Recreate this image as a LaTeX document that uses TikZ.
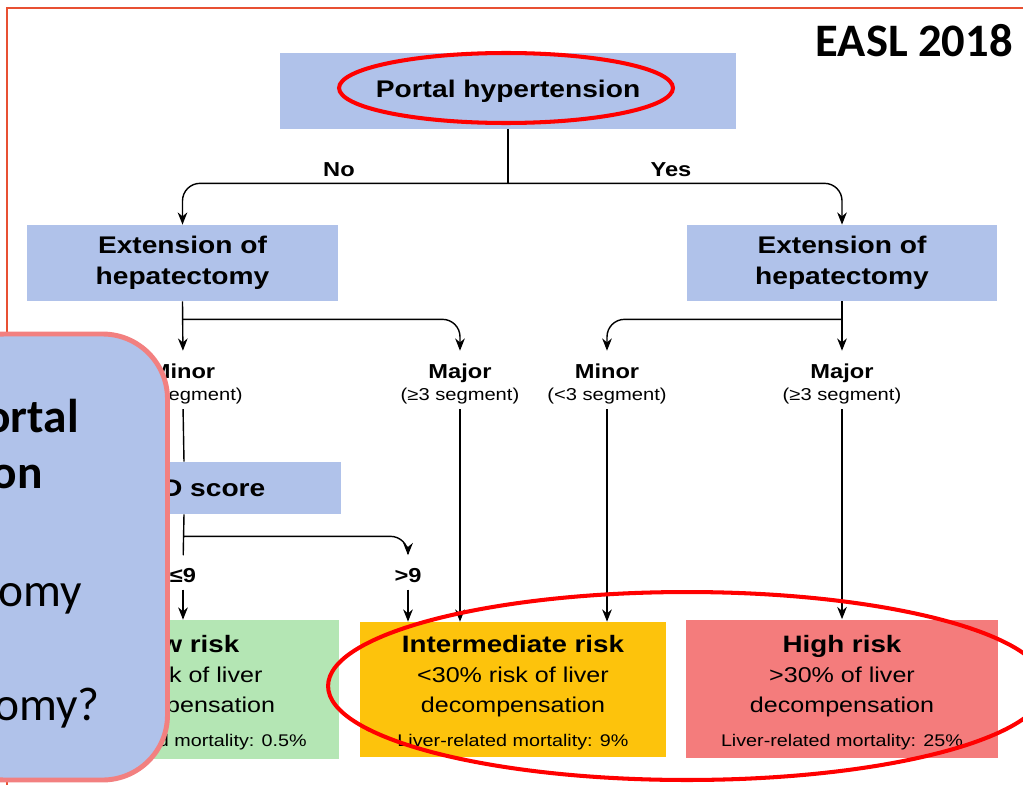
\documentclass[tikz,border=0pt]{standalone}
\usepackage{fontspec}
\setmainfont{Liberation Sans}[FakeStretch=1.17]
\newfontfamily\slidefont{Carlito}
\usetikzlibrary{arrows.meta,positioning}

\definecolor{boxblue}{RGB}{176,194,234}
\definecolor{lowgreen}{RGB}{180,230,180}
\definecolor{midamber}{RGB}{253,195,12}
\definecolor{highred}{RGB}{244,124,124}
\definecolor{framered}{RGB}{232,80,50}
\definecolor{calloutedge}{RGB}{242,128,128}

\tikzset{
  box/.style={fill=boxblue, inner sep=0pt, align=center,
    font=\bfseries\fontsize{13.7}{17.5}\selectfont},
  riskbox/.style={inner sep=0pt, minimum width=6.24cm, minimum height=2.78cm},
  risktitle/.style={anchor=base, inner sep=1pt, font=\bfseries\fontsize{13.5}{15}\selectfont},
  risktext/.style={anchor=base, inner sep=1pt, font=\fontsize{12.2}{14}\selectfont},
  riskmort/.style={anchor=base, inner sep=1pt, font=\fontsize{9.6}{11}\selectfont},
  lbl/.style={anchor=base, inner sep=1pt, font=\bfseries\fontsize{11.5}{13}\selectfont},
  seg/.style={anchor=base, inner sep=1pt, font=\fontsize{9.8}{11}\selectfont},
  lnk/.style={line width=0.8pt},
  arr/.style={lnk, -{Stealth[length=7pt,width=5.5pt]}},
  hl/.style={draw=red, line width=2.3pt},
  slide/.style={inner sep=0pt, font=\slidefont\fontsize{27}{32}\selectfont},
}

\begin{document}
\begin{tikzpicture}[x=0.02cm,y=-0.02cm]
  \useasboundingbox (0,0) rectangle (1023,784);
  \fill[white] (0,0) rectangle (1023,784);

  % outer frame of the slide picture
  \draw[framered, line width=1.1pt] (7,800) |- (1040,8);
  \node[slide, font=\slidefont\bfseries\fontsize{26.5}{30}\selectfont, anchor=base east] (easl) at (1013,57) {EASL 2018};

  % decision boxes
  \node[box, minimum width=9.12cm, minimum height=1.52cm] (portal) at (508,91) {Portal hypertension};
  \node[box, minimum width=6.22cm, minimum height=1.52cm] (extL) at (182.5,263) {Extension of\\hepatectomy};
  \node[box, minimum width=6.2cm, minimum height=1.52cm] (extR) at (842,263) {Extension of\\hepatectomy};
  \node[box, minimum width=6.28cm, minimum height=1.04cm] (meld) at (184,488) {MELD score};

  \node[lbl] (no) at (339,176) {No};
  \node[lbl] (yes) at (671,176) {Yes};

  % branch labels
  \node[lbl] (minL) at (183,378) {Minor};
  \node[seg] (minLs) at (183,400) {(<3 segment)};
  \node[lbl] (majL) at (460,378) {Major};
  \node[seg] (majLs) at (460,400) {(≥3 segment)};
  \node[lbl] (minR) at (607,378) {Minor};
  \node[seg] (minRs) at (607,400) {(<3 segment)};
  \node[lbl] (majR) at (842,378) {Major};
  \node[seg] (majRs) at (842,400) {(≥3 segment)};
  \node[lbl] (le9) at (183,582) {≤9};
  \node[lbl] (gt9) at (408,582) {>9};

  % outcome boxes
  \node[riskbox, fill=lowgreen] (low) at (183,689.5) {};
  \node[riskbox, fill=midamber, minimum width=6.12cm, minimum height=2.7cm] (mid) at (513,689.5) {};
  \node[riskbox, fill=highred] (high) at (842,689) {};

  \node[risktitle] (lowT) at (183,652) {Low risk};
  \node[risktext] (lowA) at (183,682) {No risk of liver};
  \node[risktext] (lowB) at (183,712) {decompensation};
  \node[riskmort] (lowC) at (183,746) {Liver-related mortality: 0.5\%};

  \node[risktitle] (midT) at (513,652) {Intermediate risk};
  \node[risktext] (midA) at (513,682) {<30\% risk of liver};
  \node[risktext] (midB) at (513,712) {decompensation};
  \node[riskmort] (midC) at (513,746) {Liver-related mortality: 9\%};

  \node[risktitle] (highT) at (842,652) {High risk};
  \node[risktext] (highA) at (842,682) {>30\% of liver};
  \node[risktext] (highB) at (842,712) {decompensation};
  \node[riskmort] (highC) at (842,746) {Liver-related mortality: 25\%};

  % connectors
  \draw[lnk] (portal.south) -- ++(0,54) coordinate (fork1);
  \draw[arr, rounded corners=0.35cm] (fork1) -| (extL.north);
  \draw[arr, rounded corners=0.35cm] (fork1) -| (extR.north);

  \draw[arr, shorten >=6pt] (extL.south) -- (minL.north);
  \draw[arr, rounded corners=0.35cm, shorten >=6pt] (extL.south) ++(0,18) coordinate (fork2) -| (majL.north);
  \draw[arr, shorten >=6pt] (extR.south) -- (majR.north);
  \draw[arr, rounded corners=0.35cm, shorten >=6pt] (extR.south) ++(0,18) coordinate (fork3) -| (minR.north);

  \draw[lnk, shorten <=2pt] (minLs.south) -- (meld.north);
  \draw[lnk, shorten >=6pt] (meld.south) -- (le9.north);
  \draw[arr, rounded corners=0.35cm, shorten >=6pt] (meld.south) ++(0,22) coordinate (fork4) -| (gt9.north);
  \draw[arr, shorten <=3pt] (le9.south) -- (low.north);
  \draw[arr, shorten <=3pt] (gt9.south) -- (gt9.south |- mid.north);
  \draw[arr, shorten <=2pt] (majLs.south) -- (majLs.south |- mid.north);
  \draw[arr, shorten <=2pt] (minRs.south) -- (minRs.south |- mid.north);
  \draw[arr, shorten <=2pt] (majRs.south) -- (high.north);

  % red highlights
  \draw[hl] (506,88) ellipse [x radius=3.34cm, y radius=0.7cm];
  \draw[hl] (687,686) ellipse [x radius=7.18cm, y radius=1.88cm];

  % overlaid slide callout
  \draw[draw=calloutedge, fill=boxblue, line width=2.8pt, rounded corners=1.3cm]
    (-60,334) rectangle (167.5,780);
  \node[slide, font=\slidefont\bfseries\fontsize{27}{32}\selectfont, anchor=base east] (co1) at (79,432) {ortal};
  \node[slide, font=\slidefont\bfseries\fontsize{27}{32}\selectfont, anchor=base east] (co2) at (43,488) {on};
  \node[slide, anchor=base east] (co3) at (82,606) {omy};
  \node[slide, anchor=base east] (co4) at (100,720) {omy?};
\end{tikzpicture}
\end{document}
